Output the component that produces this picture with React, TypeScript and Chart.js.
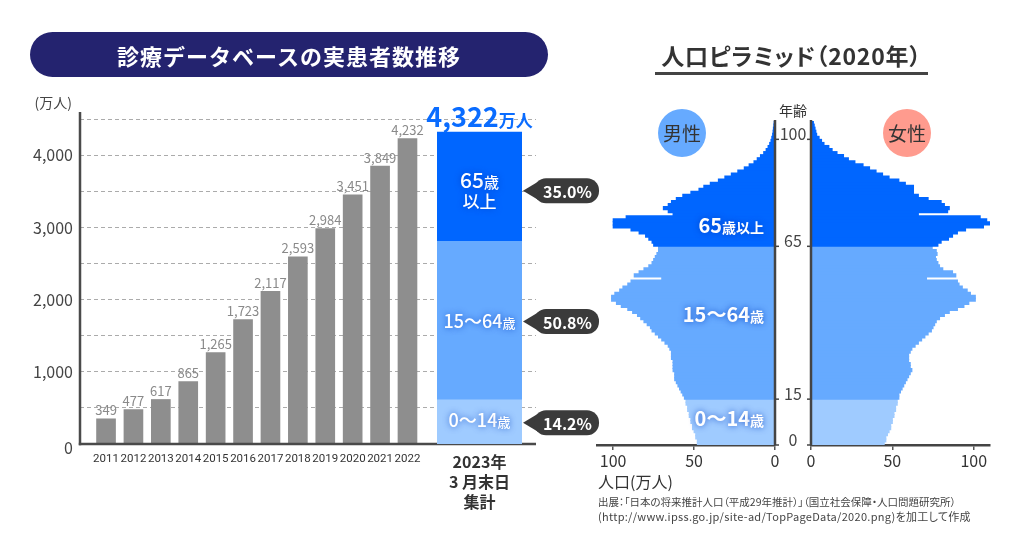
import React, { useEffect, useRef } from 'react';
import { Chart, registerables } from 'chart.js';

Chart.register(...registerables);

const FONT = '"Noto Sans CJK JP", "Noto Sans", sans-serif';
Chart.defaults.font.family = FONT;
Chart.defaults.color = '#333';

// ---------- Left: patients per year ----------
const years = ['2011', '2012', '2013', '2014', '2015', '2016', '2017', '2018', '2019', '2020', '2021', '2022'];
const patients = [349, 477, 617, 865, 1265, 1723, 2117, 2593, 2984, 3451, 3849, 4232];
const yMax = 4600;
const yGridStep = 500;
const yTickLabels = ['0', '1,000', '2,000', '3,000', '4,000'];
const yTickValues = [0, 1000, 2000, 3000, 4000];
const unitLabel = '(万人)';

// ---------- 2023 breakdown ----------
const total2023 = 4322;
const totalUnit = '万人';
const groupNumbers = ['0〜14', '15〜64', '65'];
const groupUnits = ['歳', '歳', '歳'];
const groupShares = [14.2, 50.8, 35.0];
const groupColors = ['#9fcbff', '#66aaff', '#0066ff'];
const bottomLabel = ['2023年', '3 月末日', '集計'];

// ---------- Right: population pyramid 2020 (万人), ages 0..105 ----------
const ageLabels = Array.from({ length: 106 }, (_, i) => String(i));
const male = [
  48, 48, 49, 49, 50, 51, 51, 52, 52, 53,
  53, 54, 54, 55, 55, 56, 57, 58, 59, 60,
  61, 62, 62, 62, 63, 63, 63, 63, 64, 64,
  64, 65, 66, 68, 70, 72, 74, 76, 77, 79,
  81, 83, 85, 88, 91, 95, 98, 101, 101, 99,
  96, 94, 91, 89, 70, 87, 84, 81, 78, 76,
  75, 74, 73, 72, 72, 75, 76, 78, 80, 84,
  89, 100, 100, 100, 92, 63, 66, 69, 66, 64,
  61, 57, 52, 47, 44, 40, 35, 31, 27, 23,
  19, 16, 13, 11, 9, 7, 5.5, 4.3, 3.3, 2.5,
  2, 1.5, 1.2, 1, 0.7, 0.5,
];
const female = [
  45, 46, 46, 47, 48, 49, 49, 50, 50, 51,
  51, 52, 52, 53, 53, 54, 54, 55, 56, 57,
  58, 59, 60, 61, 62, 61, 61, 60, 60, 60,
  61, 62, 64, 66, 68, 70, 72, 74, 75, 76,
  77, 79, 82, 85, 90, 94, 97, 101, 101, 98,
  96, 93, 91, 90, 71, 89, 87, 81, 79, 78,
  77, 76.5, 77.5, 77, 74.5, 78, 80, 84.5, 87, 90,
  95, 106, 110, 108, 104, 66, 84, 85, 82, 80,
  72, 66, 63, 63, 63, 58, 54, 48, 44, 40,
  36, 32, 27, 23, 20, 16, 13, 11, 8, 6.5,
  5, 3.5, 3, 2.5, 2, 1.5,
];
const pyramidMax = 110;
const pyramidTicks = [0, 50, 100];
const ageMarks = [0, 15, 65, 100];
const groupBounds = [15, 65];
const pyramidGroupLabels = [
  { age: 8, num: '0〜14', unit: '歳' },
  { age: 42, num: '15〜64', unit: '歳' },
  { age: 71, num: '65', unit: '歳以上' },
];

const colorForAge = (a: number) => (a < groupBounds[0] ? groupColors[0] : a < groupBounds[1] ? groupColors[1] : groupColors[2]);

// ---------- helpers ----------
function drawRich(ctx: CanvasRenderingContext2D, parts: Array<[string, string]>, x: number, baseline: number, align: 'left' | 'center' | 'right') {
  let total = 0;
  const widths = parts.map(([t, f]) => {
    ctx.font = f;
    const w = ctx.measureText(t).width;
    total += w;
    return w;
  });
  let cx = align === 'left' ? x : align === 'center' ? x - total / 2 : x - total;
  ctx.textAlign = 'left';
  ctx.textBaseline = 'alphabetic';
  parts.forEach(([t, f], i) => {
    ctx.font = f;
    ctx.fillText(t, cx, baseline);
    cx += widths[i];
  });
}

function drawCallout(ctx: CanvasRenderingContext2D, tipX: number, cy: number, text: string) {
  const bodyL = tipX + 11;
  const bodyW = 65;
  const h = 25;
  ctx.fillStyle = '#3b3b3b';
  ctx.beginPath();
  ctx.moveTo(tipX, cy);
  ctx.lineTo(bodyL + 4, cy - 9);
  ctx.lineTo(bodyL + 4, cy + 9);
  ctx.closePath();
  ctx.fill();
  ctx.beginPath();
  (ctx as any).roundRect(bodyL, cy - h / 2, bodyW, h, 12);
  ctx.fill();
  ctx.fillStyle = '#fff';
  ctx.font = `bold 16px ${FONT}`;
  ctx.textAlign = 'center';
  ctx.textBaseline = 'middle';
  ctx.fillText(text, bodyL + bodyW / 2 + 1, cy + 1);
}

function line(ctx: CanvasRenderingContext2D, x1: number, y1: number, x2: number, y2: number) {
  ctx.beginPath();
  ctx.moveTo(x1, y1);
  ctx.lineTo(x2, y2);
  ctx.stroke();
}

// ---------- chart configs ----------
function makeYearsChart(): any {
  const plugin = {
    id: 'yearLabels',
    afterDraw(chart: any) {
      const { ctx, chartArea, scales } = chart;
      const meta = chart.getDatasetMeta(0);
      ctx.save();
      // axis lines
      ctx.strokeStyle = '#4a4a4a';
      ctx.lineWidth = 2.5;
      line(ctx, chartArea.left, chartArea.top, chartArea.left, chartArea.bottom + 1.2);
      line(ctx, chartArea.left - 1.2, chartArea.bottom, chartArea.right, chartArea.bottom);
      // y tick labels
      ctx.font = `16px ${FONT}`;
      ctx.fillStyle = '#444';
      ctx.textAlign = 'right';
      ctx.textBaseline = 'middle';
      yTickValues.forEach((v, i) => {
        const py = scales.y.getPixelForValue(v) + (v === 0 ? 4 : 0);
        ctx.fillText(yTickLabels[i], chartArea.left - 7, py);
      });
      // value labels
      ctx.font = `13px ${FONT}`;
      ctx.fillStyle = '#8a8a8a';
      ctx.textAlign = 'center';
      ctx.textBaseline = 'bottom';
      meta.data.forEach((bar: any, i: number) => {
        ctx.fillText(patients[i].toLocaleString('en-US'), bar.x, bar.y - 2);
      });
      ctx.font = `14px ${FONT}`;
      ctx.fillStyle = '#444';
      ctx.textAlign = 'right';
      ctx.textBaseline = 'middle';
      ctx.fillText(unitLabel, chartArea.left - 8, chartArea.top - 9);
      ctx.restore();
    },
  };
  return {
    type: 'bar',
    data: {
      datasets: [
        {
          data: years.map((y, i) => ({ x: Number(y), y: patients[i] })),
          backgroundColor: '#8e8e8e',
          barThickness: 19,
        },
      ],
    },
    options: {
      animation: false,
      responsive: false,
      maintainAspectRatio: false,
      layout: { padding: { top: 112, right: 24, left: 0, bottom: 0 } },
      plugins: { legend: { display: false }, tooltip: { enabled: false } },
      scales: {
        x: {
          type: 'linear',
          offset: false,
          min: 2010.05,
          max: 2026.69,
          afterBuildTicks: (s: any) => {
            s.ticks = years.map((v) => ({ value: Number(v) }));
          },
          afterFit: (s: any) => {
            s.height = 111;
          },
          ticks: {
            autoSkip: false,
            maxRotation: 0,
            padding: 8,
            color: '#333',
            font: { size: 11.5, family: 'Roboto, "Noto Sans", sans-serif' },
            callback: (v: any) => String(v),
          },
          grid: { display: false, drawTicks: false },
          border: { display: false },
        },
        y: {
          min: 0,
          max: yMax,
          afterBuildTicks: (s: any) => {
            const t: any[] = [];
            for (let v = 0; v < yMax; v += yGridStep) t.push({ value: v });
            s.ticks = t;
          },
          afterFit: (s: any) => {
            s.width = 80;
          },
          ticks: { display: false },
          grid: { color: '#ababab', lineWidth: 1, drawTicks: false },
          border: { display: false, dash: [4, 3] },
        },
      },
    },
    plugins: [plugin],
  };
}

function makeBreakdownChart(): any {
  const plugin = {
    id: 'breakdownLabels',
    afterDatasetsDraw(chart: any) {
      const { ctx, chartArea } = chart;
      const bars = groupShares.map((_, i) => chart.getDatasetMeta(i).data[0]);
      ctx.save();
      bars.forEach((bar: any, i: number) => {
        const cy = (bar.y + bar.base) / 2;
        ctx.save();
        ctx.fillStyle = '#fff';
        ctx.shadowColor = 'rgba(0, 60, 190, 0.75)';
        ctx.shadowBlur = 6;
        if (i === 2) {
          drawRich(ctx, [[groupNumbers[i], `500 21px ${FONT}`], [groupUnits[i], `500 15px ${FONT}`]], bar.x, cy + 1, 'center');
          drawRich(ctx, [['以上', `500 17px ${FONT}`]], bar.x, cy + 21, 'center');
        } else {
          drawRich(ctx, [[groupNumbers[i], `500 18px ${FONT}`], [groupUnits[i], `500 13px ${FONT}`]], bar.x, cy + (i === 0 ? 5 : 8), 'center');
        }
        ctx.restore();
        drawCallout(ctx, bar.x + bar.width / 2 + 1, cy + (i === 2 ? 4 : 1), `${groupShares[i].toFixed(1)}%`);
      });
      const top = bars[2];
      ctx.fillStyle = '#0a6cff';
      drawRich(
        ctx,
        [
          [total2023.toLocaleString('en-US'), `bold 27px ${FONT}`],
          [totalUnit, `bold 17px ${FONT}`],
        ],
        top.x,
        top.y - 5,
        'center'
      );
      ctx.fillStyle = '#333';
      ctx.font = `bold 16px ${FONT}`;
      ctx.textAlign = 'center';
      ctx.textBaseline = 'middle';
      bottomLabel.forEach((t, k) => ctx.fillText(t, top.x, chartArea.bottom + 18 + k * 20));
      ctx.restore();
    },
  };
  return {
    type: 'bar',
    data: {
      labels: ['2023'],
      datasets: groupShares.map((s, i) => ({
        data: [(total2023 * s) / 100],
        backgroundColor: groupColors[i],
        barPercentage: 1,
        categoryPercentage: 1,
      })),
    },
    options: {
      animation: false,
      responsive: false,
      maintainAspectRatio: false,
      layout: { padding: { left: 17, right: 88, top: 112, bottom: 111 } },
      plugins: { legend: { display: false }, tooltip: { enabled: false } },
      scales: {
        x: { display: false, stacked: true },
        y: { display: false, stacked: true, min: 0, max: yMax },
      },
    },
    plugins: [plugin],
  };
}

function makePyramid(side: 'male' | 'female'): any {
  const isMale = side === 'male';
  const values = isMale ? male : female;
  const plugin = {
    id: 'pyramid-' + side,
    afterDatasetsDraw(chart: any) {
      const { ctx, chartArea: a, scales } = chart;
      const y = scales.y;
      const step = (a.bottom - a.top) / ageLabels.length;
      const edge = (age: number) => y.getPixelForValue(age) + step / 2;
      const axisX = isMale ? a.right : a.left;
      ctx.save();
      ctx.strokeStyle = '#444';
      ctx.lineWidth = 2.5;
      line(ctx, axisX, a.top - 1, axisX, a.bottom);
      ctx.lineWidth = 1.5;
      ageMarks.forEach((age) => {
        const py = edge(age);
        line(ctx, axisX, py, isMale ? axisX + 4 : axisX - 4, py);
      });
      if (isMale) {
        ctx.fillStyle = '#444';
        ctx.font = `16px ${FONT}`;
        ctx.textAlign = 'center';
        ctx.textBaseline = 'middle';
        ageMarks.forEach((age) => ctx.fillText(String(age), a.right + 18, edge(age) - 5));
        ctx.fillStyle = '#333';
        ctx.font = `14px ${FONT}`;
        ctx.fillText('年齢', a.right + 18, a.top - 10);
        // group labels
        ctx.save();
        ctx.fillStyle = '#fff';
        ctx.shadowColor = 'rgba(0, 60, 190, 0.8)';
        ctx.shadowBlur = 6;
        pyramidGroupLabels.forEach((g) => {
          drawRich(ctx, [[g.num, `bold 20px ${FONT}`], [g.unit, `bold 14px ${FONT}`]], a.right - 11, y.getPixelForValue(g.age) + 7, 'right');
        });
        ctx.restore();
        // unit
        ctx.fillStyle = '#333';
        ctx.font = `16px ${FONT}`;
        ctx.textAlign = 'left';
        ctx.textBaseline = 'middle';
        ctx.fillText('人口(万人)', a.left + 1, a.bottom + 37);
      }
      // sex badge
      const cx = isMale ? a.left + 85 : a.left + 96;
      const cy = a.top + 12;
      ctx.fillStyle = isMale ? '#66aaff' : '#ff9b8e';
      ctx.beginPath();
      ctx.arc(cx, cy, 24, 0, Math.PI * 2);
      ctx.fill();
      ctx.fillStyle = '#333';
      ctx.font = `19px ${FONT}`;
      ctx.textAlign = 'center';
      ctx.textBaseline = 'middle';
      ctx.fillText(isMale ? '男性' : '女性', cx, cy + 1);
      ctx.restore();
    },
  };
  return {
    type: 'bar',
    data: {
      labels: ageLabels,
      datasets: [
        {
          data: values,
          backgroundColor: ageLabels.map((_, i) => colorForAge(i)),
          barPercentage: 1,
          categoryPercentage: 1,
          borderWidth: 0,
          inflateAmount: 0.5,
        },
      ],
    },
    options: {
      indexAxis: 'y',
      animation: false,
      responsive: false,
      maintainAspectRatio: false,
      layout: { padding: isMale ? { left: 7, right: 37, top: 121, bottom: 0 } : { left: 6, right: 34, top: 121, bottom: 0 } },
      plugins: { legend: { display: false }, tooltip: { enabled: false } },
      scales: {
        x: {
          type: 'linear',
          reverse: isMale,
          min: 0,
          max: pyramidMax,
          afterBuildTicks: (s: any) => {
            s.ticks = pyramidTicks.map((v) => ({ value: v }));
          },
          afterFit: (s: any) => {
            s.height = 110;
          },
          ticks: { padding: 1, color: '#333', font: { size: 16 }, maxRotation: 0, autoSkip: false },
          grid: { drawOnChartArea: false, drawTicks: true, tickLength: 5, color: '#555', lineWidth: 1.5 },
          border: { display: true, color: '#444', width: 2.5 },
        },
        y: { reverse: true, display: false },
      },
    },
    plugins: [plugin],
  };
}

function ChartBox({ left, width, make }: { left: number; width: number; make: () => any }) {
  const ref = useRef<HTMLCanvasElement>(null);
  useEffect(() => {
    const chart = new Chart(ref.current as HTMLCanvasElement, make());
    return () => chart.destroy();
  }, []);
  return (
    <canvas
      ref={ref}
      width={width}
      height={555}
      style={{ position: 'absolute', left, top: 0, width, height: 555 }}
    />
  );
}

export default function App() {
  return (
    <div style={{ position: 'fixed', left: 0, top: 0, width: 1024, height: 555, background: '#fff', overflow: 'hidden', fontFamily: FONT }}>
      <ChartBox left={0} width={560} make={makeYearsChart} />
      <ChartBox left={420} width={190} make={makeBreakdownChart} />
      <ChartBox left={590} width={222} make={() => makePyramid('male')} />
      <ChartBox left={805} width={219} make={() => makePyramid('female')} />

      <div
        style={{
          position: 'absolute',
          left: 30,
          top: 32,
          width: 518,
          height: 45,
          borderRadius: 23,
          background: '#24236f',
          color: '#fff',
          font: `bold 22px ${FONT}`,
          letterSpacing: '1px',
          display: 'flex',
          alignItems: 'center',
          justifyContent: 'center',
        }}
      >
        診療データベースの実患者数推移
      </div>

      <div
        style={{
          position: 'absolute',
          left: 640,
          top: 40,
          width: 303,
          textAlign: 'center',
          font: `bold 23px ${FONT}`,
          letterSpacing: '0.8px',
          lineHeight: '30px',
          color: '#333',
          whiteSpace: 'nowrap',
          fontFeatureSettings: '"palt"',
        }}
      >
        人口ピラミッド（2020年）
      </div>
      <div style={{ position: 'absolute', left: 655, top: 72, width: 273, height: 3, background: '#444' }} />

      <div
        style={{
          position: 'absolute',
          left: 598,
          top: 494,
          font: `10.5px ${FONT}`,
          lineHeight: '15px',
          color: '#444',
          whiteSpace: 'nowrap',
          fontFeatureSettings: '"palt"',
        }}
      >
        出展：「日本の将来推計人口（平成29年推計）」（国立社会保障・人口問題研究所）
      </div>
      <div
        style={{
          position: 'absolute',
          left: 598,
          top: 509,
          font: `11px ${FONT}`,
          letterSpacing: '0.3px',
          lineHeight: '15px',
          color: '#444',
          whiteSpace: 'nowrap',
          fontFeatureSettings: '"palt"',
        }}
      >
        (http://www.ipss.go.jp/site-ad/TopPageData/2020.png)を加工して作成
      </div>
    </div>
  );
}
